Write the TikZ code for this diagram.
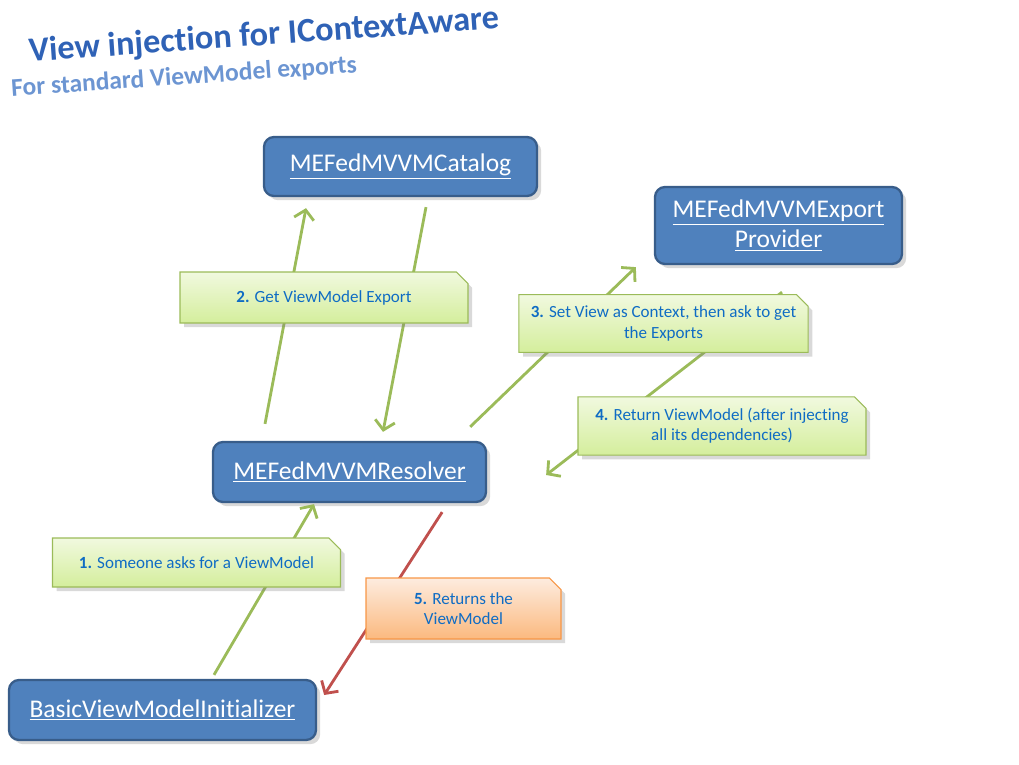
\documentclass[tikz,border=0pt]{standalone}
\usepackage{fontspec}
\setmainfont{Carlito}[Ligatures=NoCommon]
\usetikzlibrary{shapes.misc, arrows.meta, shadows}
\definecolor{boxblue}{HTML}{4F81BD}
\definecolor{boxedge}{HTML}{385D8A}
\definecolor{notegreen}{HTML}{9BBB59}
\definecolor{notetop}{HTML}{F1F9DF}
\definecolor{notebottom}{HTML}{D4EE9C}
\definecolor{noteorange}{HTML}{F79646}
\definecolor{orangetop}{HTML}{FDECDF}
\definecolor{orangebottom}{HTML}{FBB97F}
\definecolor{arrowred}{HTML}{C0504D}
\definecolor{notetext}{HTML}{0F6CC4}
\definecolor{titleblue}{HTML}{2F62B6}
\definecolor{subblue}{HTML}{6C95D2}
\tikzstyle{component} = [rectangle, rounded corners=0.2cm, minimum width=5.46cm, minimum height=1.2cm, align=center, draw=boxedge, line width=1.3pt, fill=boxblue, text=white, font=\fontsize{14.5}{17}\selectfont, drop shadow={opacity=0.3}]
\tikzstyle{note} = [chamfered rectangle, chamfered rectangle corners=north east, chamfered rectangle xsep=0.12cm, minimum width=5.76cm, minimum height=1cm, align=center, draw=notegreen, line width=0.6pt, top color=notetop, bottom color=notebottom, text=notetext, font=\fontsize{9.7}{11.5}\selectfont, drop shadow={opacity=0.3}]
\tikzstyle{returnnote} = [note, draw=noteorange, top color=orangetop, bottom color=orangebottom, minimum width=3.9cm, minimum height=1.22cm]
\tikzstyle{arrow} = [line width=1.6pt, draw=notegreen, -{Straight Barb[length=1.8mm, width=4mm]}]
\tikzstyle{returnarrow} = [arrow, draw=arrowred]
\tikzstyle{heading} = [rotate=4, inner sep=0pt]

\begin{document}
\begin{tikzpicture}
    \useasboundingbox (0,0) rectangle (20.38,-15.30);
    % Title
    \node (title) at (5.28,-0.72) [heading, text=titleblue, font=\bfseries\fontsize{19.5}{22}\selectfont] {View injection for IContextAware};
    \node (subtitle) at (3.68,-1.55) [heading, text=subblue, font=\bfseries\fontsize{14.5}{17}\selectfont] {For standard ViewModel exports};

    % Nodes
    \node (catalog) at (8.01,-3.33) [component, minimum height=1.18cm] {\underline{MEFedMVVMCatalog}};
    \node (provider) at (15.57,-4.51) [component, minimum width=4.94cm, minimum height=1.54cm] {\underline{MEFedMVVMExport}\\\underline{Provider}};
    \node (resolver) at (6.99,-9.44) [component] {\underline{MEFedMVVMResolver}};
    \node (initializer) at (3.25,-14.2) [component, minimum width=6.14cm] {\underline{BasicViewModelInitializer}};

    % Arrows
    \draw [arrow] ([shift={(1.03,0.08)}]initializer.north) -- ([shift={(-0.71,-0.02)}]resolver.south);
    \draw [arrow] ([shift={(-1.69,0.34)}]resolver.north) -- ([shift={(-1.89,-0.22)}]catalog.south);
    \draw [arrow] ([shift={(0.51,-0.20)}]catalog.south) -- ([shift={(0.67,0.18)}]resolver.north);
    \draw [arrow] ([shift={(-0.34,0.28)}]resolver.north east) -- ([shift={(-0.36,-0.04)}]provider.south west);
    \draw [arrow] ([shift={(0.07,-0.54)}]provider.south) -- ([shift={(1.18,-0.06)}]resolver.east);
    \draw [returnarrow] ([shift={(-0.90,-0.18)}]resolver.south east) -- ([shift={(0.14,0.30)}]initializer.east);

    % Notes
    \node (ask) at (3.93,-11.25) [note, minimum height=0.98cm] {\textbf{1.} Someone asks for a ViewModel};
    \node (getexport) at (6.48,-5.95) [note, minimum height=1.02cm] {\textbf{2.} Get ViewModel Export};
    \node (setcontext) at (13.27,-6.47) [note, minimum height=1.02cm] {\textbf{3.} Set View as Context, then ask to get\\the Exports};
    \node (giveback) at (14.44,-8.52) [note] {\textbf{4.} Return ViewModel (after injecting\\all its dependencies)};
    \node (returns) at (9.27,-12.17) [returnnote] {\textbf{5.} Returns the\\ViewModel};
\end{tikzpicture}
\end{document}
